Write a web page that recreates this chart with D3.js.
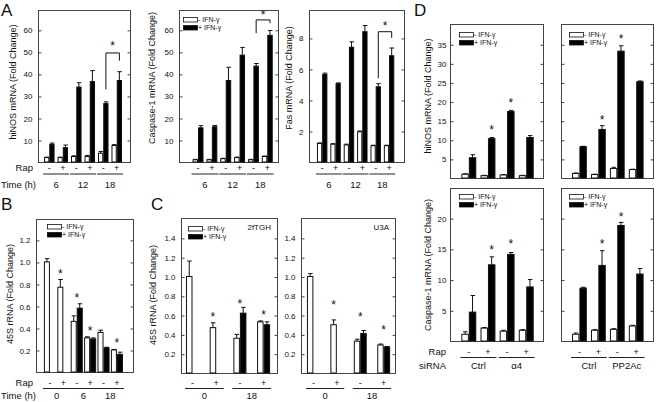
<!DOCTYPE html>
<html><head><meta charset="utf-8">
<script src="https://cdn.jsdelivr.net/npm/d3@7"></script>
<style>
body{margin:0;background:#fff;}
svg text{font-family:"Liberation Sans",Arial,Helvetica,sans-serif;fill:#111;}
</style></head>
<body><svg id="c" width="656" height="402"></svg>
<script>
// ---------- DATA ----------
const rapSigns6 = ["-","+","-","+","-","+"];
const timesA = ["6","12","18"];
const timesB = ["0","6","18"];
const rapSigns4 = ["-","+","-","+"];
const timesC = ["0","18"];
const siRNA_D1 = ["Ctrl","\u03b14"];
const siRNA_D2 = ["Ctrl","PP2Ac"];

const hinosWhite = [2.0,2.0,2.5,2.5,4.0,7.5];
const hinosWhiteErr = [0.2,0.2,0.3,0.5,0.8,0.4];
const hinosBlack = [8.0,6.5,34,36.5,26.5,37];
const hinosBlackErr = [0.6,1.2,2.0,5.0,0.8,4.0];

const caspWhite = [1.0,1.0,1.5,2.0,1.0,2.5];
const caspWhiteErr = [0.2,0.2,0.2,0.2,0.2,0.2];
const caspBlack = [15.5,16,37,48.5,43.5,57.5];
const caspBlackErr = [1.0,0.6,6.0,3.5,1.2,2.2];

const fasWhite = [1.2,1.15,1.1,1.95,1.05,1.05];
const fasWhiteErr = [0.03,0.03,0.05,0.05,0.03,0.03];
const fasBlack = [5.65,5.05,7.4,8.4,4.85,6.85];
const fasBlackErr = [0.08,0.05,0.35,0.4,0.2,0.5];

const rrnaWhite = [1.0,0.77,0.46,0.31,0.36,0.20];
const rrnaWhiteErr = [0.03,0.07,0.05,0.01,0.02,0.005];
const rrnaBlack = [null,null,0.58,0.30,0.22,0.16];
const rrnaBlackErr = [0,0,0.04,0.01,0.005,0.02];

const tghWhite = [1.0,0.47,0.36,0.53];
const tghWhiteErr = [0.16,0.05,0.04,0.01];
const tghBlack = [null,null,0.62,0.50];
const tghBlackErr = [0,0,0.06,0.03];

const u3aWhite = [1.0,0.50,0.33,0.29];
const u3aWhiteErr = [0.03,0.05,0.02,0.01];
const u3aBlack = [null,null,0.41,0.27];
const u3aBlackErr = [0,0,0.03,0.005];

const d1White = [1.0,0.6,0.8,0.6];
const d1WhiteErr = [0.1,0.1,0.1,0.1];
const d1Black = [5.3,10.3,17.4,10.6];
const d1BlackErr = [0.8,0.3,0.3,0.5];

const d2White = [1.2,0.9,2.5,2.2];
const d2WhiteErr = [0.1,0.1,0.3,0.1];
const d2Black = [8.2,12.7,33.2,25.2];
const d2BlackErr = [0.1,1.0,1.4,0.2];

const d3White = [1.1,2.1,1.6,1.75];
const d3WhiteErr = [0.4,0.1,0.15,0.1];
const d3Black = [4.7,12.4,14.1,8.8];
const d3BlackErr = [2.7,1.3,0.3,1.2];

const d4White = [1.1,1.75,1.9,2.45];
const d4WhiteErr = [0.2,0.1,0.1,0.1];
const d4Black = [8.6,12.3,18.8,10.9];
const d4BlackErr = [0.15,2.4,0.5,0.9];

const ticksA = [10,20,30,40,50,60];
const ticksFas = [2,4,6,8];
const ticksB = [0.2,0.4,0.6,0.8,1.0,1.2];
const ticksC = [0.2,0.4,0.6,0.8,1.0,1.2,1.4];
const ticksD1 = [5,10,15,20,25,30,35];
const ticksD3 = [5,10,15,20];

const legendLabels = ["- IFN-\u03b3","+ IFN-\u03b3"];

// ---------- DRAWING ----------
const svg = d3.select("#c");
const FONT = '"Liberation Sans",Arial,Helvetica,sans-serif';

function panel(c){
  const g = svg.append("g");
  const [x0,x1,yT,yB] = c.frame;
  const y = d3.scaleLinear().domain([0,c.ymax]).range([yB,yT]);
  const n = c.white.length;
  const x = d3.scaleBand().domain(d3.range(n)).range([x0,x1])
     .paddingInner(c.pi).paddingOuter(c.po).align(c.al==null?0.5:c.al);
  const bw = x.bandwidth()/2;
  const cx = i => x(i)+bw;

  g.append("rect").attr("x",x0+0.5).attr("y",yT+0.5).attr("width",x1-x0).attr("height",yB-yT)
    .attr("fill","none").attr("stroke","#444").attr("stroke-width",1);
  const ax = d3.axisLeft(y).tickValues(c.ticks).tickSize(-3).tickPadding(c.tp||6)
      .tickFormat(c.fmt ? d3.format(c.fmt) : d3.format("d"));
  const axg = g.append("g").attr("transform",`translate(${x0+0.5},0.5)`).call(ax);
  axg.select(".domain").remove();
  axg.selectAll("line").attr("stroke","#444");
  axg.selectAll("text").attr("font-size",8).attr("font-family",FONT).attr("fill","#222")
     .style("display", c.noLabels ? "none" : null);
  const axr = d3.axisRight(y).tickValues(c.ticks).tickSize(-3).tickFormat("");
  const arg = g.append("g").attr("transform",`translate(${x1+0.5},0.5)`).call(axr);
  arg.select(".domain").remove();
  arg.selectAll("line").attr("stroke","#444");

  const bars = [];
  c.white.forEach((v,i)=>{ if(v!=null) bars.push({v, e:c.whiteErr[i], xl:x(i), fill:"#fff"}); });
  c.black.forEach((v,i)=>{ if(v!=null) bars.push({v, e:c.blackErr[i], xl:cx(i), fill:"#000"}); });
  g.selectAll("rect.bar").data(bars).join("rect").attr("class","bar")
    .attr("x",d=>d.xl+0.5).attr("width",bw-1)
    .attr("y",d=>y(d.v)).attr("height",d=>yB-y(d.v))
    .attr("fill",d=>d.fill).attr("stroke","#111").attr("stroke-width",1);
  const eb = bars.filter(d=>d.e>0);
  g.selectAll("line.eb").data(eb).join("line").attr("class","eb")
    .attr("x1",d=>d.xl+bw/2).attr("x2",d=>d.xl+bw/2)
    .attr("y1",d=>y(d.v)).attr("y2",d=>y(d.v+d.e)).attr("stroke","#111");
  g.selectAll("line.cap").data(eb).join("line").attr("class","cap")
    .attr("x1",d=>d.xl+bw/2-2).attr("x2",d=>d.xl+bw/2+2.5)
    .attr("y1",d=>y(d.v+d.e)).attr("y2",d=>y(d.v+d.e)).attr("stroke","#111");

  (c.stars||[]).forEach(s=>{
    const sx = s[1]==="w" ? x(s[0])+bw/2 : s[1]==="b" ? cx(s[0])+bw/2 : cx(s[0]);
    g.append("text").attr("x",sx).attr("y",y(s[2])+6).attr("text-anchor","middle")
      .attr("font-size",12).text("*");
  });
  if(c.bracket){
    const b = c.bracket;
    const xa = cx(b.l)+bw/2, xb = cx(b.r)+bw/2;
    g.append("path").attr("d",`M${xa},${y(b.le)}V${y(b.top)}H${xb}V${y(b.re)}`)
      .attr("fill","none").attr("stroke","#111");
    g.append("text").attr("x",(xa+xb)/2).attr("y",y(b.star)+6).attr("text-anchor","middle")
      .attr("font-size",12).text("*");
  }
  if(c.legend){
    const [lx,ly] = c.legend;
    legendLabels.forEach((t,k)=>{
      g.append("rect").attr("x",lx+0.5).attr("y",ly+k*8+0.5).attr("width",14).attr("height",4.5)
        .attr("fill",k? "#000":"#fff").attr("stroke","#111").attr("stroke-width",0.8);
      g.append("text").attr("x",lx+15).attr("y",ly+k*8+5.2).attr("font-size",7).text(t);
    });
  }
  if(c.tag){
    g.append("text").attr("x",x1-6).attr("y",yT+12).attr("text-anchor","end").attr("font-size",8).text(c.tag);
  }
  if(c.ylabel){
    const [t, lx, lc] = c.ylabel;
    g.append("text").attr("transform",`translate(${lx},${lc==null?(yT+yB)/2:lc}) rotate(-90)`)
      .attr("text-anchor","middle").attr("font-size",9).text(t);
  }
  if(c.signs){
    const sy = c.signY;
    g.selectAll("text.sg").data(c.signs).join("text").attr("class","sg")
      .attr("x",(d,i)=>cx(i)).attr("y",sy).attr("text-anchor","middle").attr("font-size",9).text(d=>d);
    const per = n / c.cats.length;
    c.cats.forEach((t,k)=>{
      const xa = x(k*per)-1, xb = x(k*per+per-1)+x.bandwidth()+1;
      g.append("line").attr("x1",xa).attr("x2",xb).attr("y1",sy+c.lo).attr("y2",sy+c.lo).attr("stroke","#222");
      g.append("text").attr("x",(xa+xb)/2).attr("y",sy+c.co).attr("text-anchor","middle").attr("font-size",9.5).text(t);
    });
  }
  if(c.rowLabels){
    const [rx, r1, r2, r2x] = c.rowLabels;
    g.append("text").attr("x",rx).attr("y",c.signY).attr("text-anchor","end").attr("font-size",9.5).text(r1);
    g.append("text").attr("x",r2x).attr("y",c.signY+c.co).attr("text-anchor","end").attr("font-size",9.5).text(r2);
  }
}

// Panel A
panel({frame:[38,130,10,162], ymax:69, ticks:ticksA, pi:0.22, po:0.52, al:0.43,
  white:hinosWhite, whiteErr:hinosWhiteErr, black:hinosBlack, blackErr:hinosBlackErr,
  bracket:{l:4,r:5,top:49.5,le:33,re:46,star:53.5},
  ylabel:["hiNOS mRNA (Fold Change)",16,82], signs:rapSigns6, cats:timesA, signY:171, lo:3, co:17,
  rowLabels:[33,"Rap","Time (h)",36]});
panel({frame:[179,278,10,162], ymax:69, ticks:ticksA, pi:0.21, po:0.68, al:0.72,
  white:caspWhite, whiteErr:caspWhiteErr, black:caspBlack, blackErr:caspBlackErr,
  bracket:{l:4,r:5,top:64.5,le:58.5,re:63,star:67.5}, legend:[183,17],
  ylabel:["Caspase-1 mRNA (Fold Change)",155,78], signs:rapSigns6, cats:timesA, signY:171, lo:3, co:17});
panel({frame:[309,404,10,162], ymax:9.8, ticks:ticksFas, pi:0.22, po:0.66, al:0.45,
  white:fasWhite, whiteErr:fasWhiteErr, black:fasBlack, blackErr:fasBlackErr,
  bracket:{l:4,r:5,top:8.4,le:5.4,re:8.0,star:8.9},
  ylabel:["Fas mRNA (Fold Change)",292,78], signs:rapSigns6, cats:timesA, signY:171, lo:3, co:17});

// Panel B
panel({frame:[36,133,219,372], ymax:1.39, ticks:ticksB, fmt:".1f", pi:0.1, po:0.67, al:0.44,
  white:rrnaWhite, whiteErr:rrnaWhiteErr, black:rrnaBlack, blackErr:rrnaBlackErr,
  stars:[[1,"w",0.91],[2,"c",0.69],[3,"c",0.39],[5,"c",0.28]], legend:[47,224],
  ylabel:["45S rRNA (Fold Change)",13,294], signs:rapSigns6, cats:timesB, signY:386, lo:2.5, co:13,
  rowLabels:[33,"Rap","Time (h)",36]});

// Panel C
panel({frame:[181,277,218,373], ymax:1.606, ticks:ticksC, fmt:".1f", pi:0.45, po:0.25, al:0.42,
  white:tghWhite, whiteErr:tghWhiteErr, black:tghBlack, blackErr:tghBlackErr,
  stars:[[1,"w",0.60],[2,"c",0.74],[3,"c",0.62]], legend:[188,226], tag:"2fTGH",
  ylabel:["45S rRNA (Fold Change)",156,295], signs:rapSigns4, cats:timesC, signY:386, lo:2.5, co:13});
panel({frame:[301,395,218,373], ymax:1.606, ticks:ticksC, fmt:".1f", pi:0.45, po:0.23, al:0.55,
  white:u3aWhite, whiteErr:u3aWhiteErr, black:u3aBlack, blackErr:u3aBlackErr,
  stars:[[1,"w",0.73],[2,"c",0.60],[3,"c",0.47]], tag:"U3A",
  signs:rapSigns4, cats:timesC, signY:386, lo:2.5, co:13});

// Panel D
panel({frame:[450,543,24,178], ymax:40.3, ticks:ticksD1, tp:4, pi:0.22, po:0.54, al:0.55,
  white:d1White, whiteErr:d1WhiteErr, black:d1Black, blackErr:d1BlackErr,
  stars:[[1,"b",13.2],[2,"b",20.2]], legend:[459,32],
  ylabel:["hiNOS mRNA (Fold Change)",431,96]});
panel({frame:[561,653,24,178], ymax:40.3, ticks:ticksD1, noLabels:true, pi:0.22, po:0.54, al:0.54,
  white:d2White, whiteErr:d2WhiteErr, black:d2Black, blackErr:d2BlackErr,
  stars:[[1,"b",15.7],[2,"b",36.9]], legend:[569,32]});
panel({frame:[450,543,188,341], ymax:24.9, ticks:ticksD3, tp:4, pi:0.22, po:0.54, al:0.55,
  white:d3White, whiteErr:d3WhiteErr, black:d3Black, blackErr:d3BlackErr,
  stars:[[1,"b",15.1],[2,"b",16.1]], legend:[459,194],
  ylabel:["Caspase-1 mRNA (Fold Change)",431,265], signs:rapSigns4, cats:siRNA_D1, signY:355, lo:2.5, co:14,
  rowLabels:[446,"Rap","siRNA",446]});
panel({frame:[561,653,188,341], ymax:24.9, ticks:ticksD3, noLabels:true, pi:0.22, po:0.54, al:0.54,
  white:d4White, whiteErr:d4WhiteErr, black:d4Black, blackErr:d4BlackErr,
  stars:[[1,"b",16.1],[2,"b",20.5]], legend:[569,194],
  signs:rapSigns4, cats:siRNA_D2, signY:355, lo:2.5, co:14});

// panel letters
[["A",1,16],["B",1,210],["C",151,210],["D",414,16]].forEach(p=>{
  svg.append("text").attr("x",p[1]).attr("y",p[2]).attr("font-size",17).text(p[0]);
});
</script></body></html>
